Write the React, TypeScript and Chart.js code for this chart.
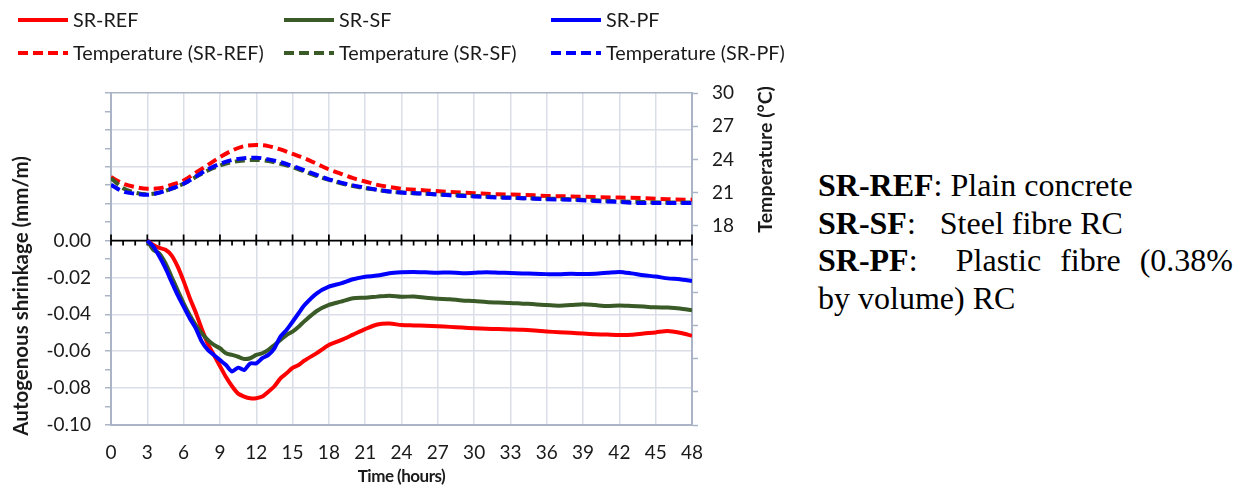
import React, { useEffect, useRef } from "react";
import { Chart, registerables } from "chart.js";

Chart.register(...registerables);

// ---------- data ----------
const shrinkHours = [
  3, 3.5, 4, 4.5, 5, 5.5, 6, 6.5, 7, 7.5, 8, 8.5, 9, 9.5, 10, 10.5, 11, 11.5, 12, 12.5, 13, 13.5, 14, 14.5, 15, 15.5,
  16, 17, 18, 19, 20, 21, 22, 23, 24, 25, 26, 27, 28, 29, 30, 31, 32, 33, 34, 35, 36, 37, 38, 39, 40, 41, 42, 43, 44,
  45, 46, 47, 48,
];
const shrinkREF = [
  0, -0.0024, -0.004, -0.005, -0.008, -0.014, -0.022, -0.031, -0.039, -0.048, -0.056, -0.062, -0.068, -0.074, -0.079,
  -0.083, -0.0846, -0.0855, -0.0855, -0.0846, -0.082, -0.079, -0.0747, -0.072, -0.069, -0.0675, -0.065, -0.061,
  -0.0566, -0.054, -0.051, -0.048, -0.0455, -0.045, -0.0458, -0.046, -0.0462, -0.0465, -0.0468, -0.0472, -0.0475,
  -0.0478, -0.048, -0.0482, -0.0484, -0.0488, -0.0493, -0.0497, -0.05, -0.0504, -0.0508, -0.051, -0.0512, -0.0511,
  -0.0504, -0.0498, -0.049, -0.05, -0.0516,
];
const shrinkSF = [
  0, -0.005, -0.007, -0.0123, -0.0196, -0.0268, -0.034, -0.0403, -0.0458, -0.0503, -0.0539, -0.0566, -0.0584,
  -0.0611, -0.062, -0.063, -0.0642, -0.0638, -0.062, -0.0611, -0.0593, -0.0566, -0.0539, -0.0512, -0.0494, -0.0467,
  -0.0436, -0.0382, -0.0349, -0.0331, -0.0313, -0.031, -0.0304, -0.0299, -0.0305, -0.0303, -0.031, -0.0315, -0.0318,
  -0.0325, -0.0328, -0.0333, -0.0336, -0.0338, -0.0342, -0.0345, -0.035, -0.0353, -0.035, -0.0345, -0.035, -0.0355,
  -0.0352, -0.0355, -0.0358, -0.0362, -0.0363, -0.0368, -0.0378,
];
const shrinkPF = [
  0, -0.0033, -0.0087, -0.015, -0.0223, -0.0295, -0.0358, -0.0421, -0.0476, -0.0548, -0.0593, -0.062, -0.0648,
  -0.0675, -0.071, -0.0689, -0.0702, -0.0666, -0.0666, -0.0638, -0.062, -0.0584, -0.0521, -0.0485, -0.044, -0.0394,
  -0.0349, -0.0286, -0.025, -0.0232, -0.021, -0.0196, -0.019, -0.0177, -0.0172, -0.017, -0.0172, -0.0174, -0.0173,
  -0.0177, -0.0175, -0.0172, -0.0174, -0.0176, -0.0178, -0.018, -0.0182, -0.0183, -0.018, -0.0182, -0.018, -0.0175,
  -0.017, -0.0178, -0.0188, -0.0195, -0.0205, -0.021, -0.0219,
];

const tempHours = [
  0, 1, 2, 3, 4, 5, 6, 7, 8, 9, 10, 11, 12, 13, 14, 15, 16, 17, 18, 19, 20, 21, 22, 23, 24, 26, 28, 30, 32, 34, 36, 38,
  40, 42, 44, 46, 48,
];
const tempREF = [
  22.4, 21.8, 21.5, 21.35, 21.4, 21.7, 22.1, 22.8, 23.5, 24.2, 24.8, 25.2, 25.3, 25.2, 24.9, 24.5, 24.1, 23.6, 23.1,
  22.7, 22.3, 22.0, 21.7, 21.5, 21.35, 21.2, 21.05, 20.95, 20.85, 20.8, 20.7, 20.65, 20.6, 20.55, 20.5, 20.4, 20.35,
];
const tempSF = [
  22.3, 21.4, 21.0, 20.85, 21.0, 21.35, 21.8, 22.4, 23.0, 23.45, 23.75, 23.9, 23.95, 23.85, 23.6, 23.3, 22.9, 22.5,
  22.15, 21.85, 21.6, 21.4, 21.25, 21.1, 21.0, 20.9, 20.8, 20.7, 20.6, 20.5, 20.45, 20.4, 20.3, 20.2, 20.15, 20.1, 20.1,
];
const tempPF = [
  21.7, 21.1, 20.9, 20.8, 21.0, 21.35, 21.8, 22.45, 23.1, 23.6, 23.95, 24.1, 24.15, 24.0, 23.75, 23.4, 23.0, 22.6, 22.2,
  21.9, 21.65, 21.45, 21.25, 21.1, 21.0, 20.9, 20.75, 20.65, 20.55, 20.5, 20.4, 20.35, 20.25, 20.15, 20.05, 20.05, 20.05,
];

const seriesLabels = ["SR-REF", "SR-SF", "SR-PF"];
const tempLabels = ["Temperature (SR-REF)", "Temperature (SR-SF)", "Temperature (SR-PF)"];
const seriesColors = ["#ff0000", "#3a5a27", "#0000ff"];

const xTitle = "Time (hours)";
const yTitle = "Autogenous shrinkage (mm/m)";
const y1Title = "Temperature (°C)";

// ---------- styles ----------
const GRID = "#d9dee7";
const AXIS = "#aab4c6";
const TEXT = "#1a1a1a";
const FONT = "Lato";
const DASH = [10, 5];

const toPts = (xs: number[], ys: number[]) => xs.map((x, i) => ({ x, y: ys[i] }));

const centerAxisPlugin = {
  id: "centerAxis",
  beforeDatasetsDraw(chart: any) {
    const { ctx, chartArea, scales } = chart;
    const y0 = scales.y.getPixelForValue(0);
    ctx.save();
    ctx.strokeStyle = "#000";
    ctx.lineWidth = 1.75;
    ctx.beginPath();
    ctx.moveTo(chartArea.left, y0);
    ctx.lineTo(chartArea.right, y0);
    for (let h = 0; h <= 48; h++) {
      const px = scales.x.getPixelForValue(h);
      if (h % 3 === 0) {
        ctx.moveTo(px, y0 - 6);
        ctx.lineTo(px, y0 + 5);
      } else {
        ctx.moveTo(px, y0);
        ctx.lineTo(px, y0 + 5);
      }
    }
    ctx.stroke();
    ctx.restore();
  },
};

const titlesPlugin = {
  id: "titles",
  afterDraw(chart: any) {
    const { ctx, chartArea, scales } = chart;
    ctx.save();
    ctx.fillStyle = TEXT;
    ctx.textAlign = "center";
    ctx.textBaseline = "middle";
    ctx.font = `bold 17px ${FONT}`;
    try {
      (ctx as any).letterSpacing = "-0.5px";
    } catch (e) {}
    ctx.fillText(xTitle, (chartArea.left + chartArea.right) / 2, 477);
    try {
      (ctx as any).letterSpacing = "0px";
    } catch (e) {}
    ctx.save();
    ctx.font = `bold 20.5px ${FONT}`;
    ctx.translate(21, scales.y.getPixelForValue(-0.03));
    ctx.rotate(-Math.PI / 2);
    ctx.fillText(yTitle, 0, 0);
    ctx.restore();
    ctx.save();
    ctx.font = `bold 19.5px ${FONT}`;
    ctx.translate(766, scales.y1.getPixelForValue(24));
    ctx.rotate(-Math.PI / 2);
    ctx.fillText(y1Title, 0, 0);
    ctx.restore();
    ctx.restore();
  },
};

const legendPlugin = {
  id: "gridLegend",
  afterDraw(chart: any) {
    const { ctx } = chart;
    const colX = [18, 284, 551];
    const rowY = [20, 53];
    ctx.save();
    ctx.font = `19.8px ${FONT}`;
    ctx.textBaseline = "middle";
    ctx.textAlign = "left";
    chart.data.datasets.forEach((ds: any, i: number) => {
      const x0 = colX[i % 3];
      const y = rowY[Math.floor(i / 3)];
      ctx.strokeStyle = ds.borderColor;
      ctx.lineWidth = 4;
      ctx.setLineDash(ds.borderDash || []);
      ctx.beginPath();
      ctx.moveTo(x0, y);
      ctx.lineTo(x0 + 50, y);
      ctx.stroke();
      ctx.setLineDash([]);
      ctx.fillStyle = TEXT;
      ctx.fillText(ds.label, x0 + 55, y + 1);
    });
    ctx.restore();
  },
};

export default function App() {
  const canvasRef = useRef<HTMLCanvasElement | null>(null);

  useEffect(() => {
    if (!canvasRef.current) return;
    const shrinkSets = [shrinkREF, shrinkSF, shrinkPF];
    const tempSets = [tempREF, tempSF, tempPF];
    const orders = [3, 2, 1];
    const datasets: any[] = [];
    shrinkSets.forEach((s, i) =>
      datasets.push({
        label: seriesLabels[i],
        data: toPts(shrinkHours, s),
        borderColor: seriesColors[i],
        backgroundColor: seriesColors[i],
        borderWidth: 4,
        pointRadius: 0,
        tension: 0.25,
        yAxisID: "y",
        order: orders[i],
      })
    );
    tempSets.forEach((s, i) =>
      datasets.push({
        label: tempLabels[i],
        data: toPts(tempHours, s),
        borderColor: seriesColors[i],
        backgroundColor: seriesColors[i],
        borderWidth: 4,
        borderDash: DASH,
        pointRadius: 0,
        cubicInterpolationMode: "monotone",
        yAxisID: "y1",
        order: orders[i],
      })
    );

    const tickFont = { family: FONT, size: 19 };
    const chart = new Chart(canvasRef.current, {
      type: "line",
      data: { datasets },
      options: {
        responsive: false,
        animation: false,
        devicePixelRatio: 1,
        layout: { padding: { top: 93, left: 0, right: 0, bottom: 0 } },
        plugins: { legend: { display: false }, tooltip: { enabled: false } },
        scales: {
          x: {
            type: "linear",
            position: "bottom",
            min: 0,
            max: 48,
            afterFit: (s: any) => {
              s.height = 63;
            },
            ticks: { stepSize: 3, autoSkip: false, maxRotation: 0, padding: 16, font: tickFont, color: TEXT },
            grid: { color: GRID, lineWidth: 1.5, drawTicks: false },
            border: { color: AXIS, width: 2 },
          },
          y: {
            position: "left",
            min: -0.1,
            max: 0.08,
            afterFit: (s: any) => {
              s.width = 111;
            },
            ticks: {
              stepSize: 0.01,
              autoSkip: false,
              padding: 14,
              font: tickFont,
              color: TEXT,
              callback: (v: any) => {
                const k = Math.round(Number(v) * 100);
                return k <= 0 && k % 2 === 0 ? (k / 100).toFixed(2) : "";
              },
            },
            grid: {
              color: (c: any) => {
                const k = Math.round(c.tick.value * 100);
                if (k === 8) return AXIS;
                return k % 2 === 0 ? GRID : "rgba(0,0,0,0)";
              },
              lineWidth: 1.5,
              tickLength: 6,
              tickColor: AXIS,
              tickWidth: 1.5,
            },
            border: { color: AXIS, width: 2 },
          },
          y1: {
            position: "right",
            min: 0,
            max: 30,
            afterFit: (s: any) => {
              s.width = 108;
            },
            ticks: {
              stepSize: 3,
              autoSkip: false,
              padding: 14,
              font: tickFont,
              color: TEXT,
              callback: (v: any) => (Number(v) >= 18 ? String(v) : ""),
            },
            grid: { drawOnChartArea: false, tickLength: 6, tickColor: AXIS, tickWidth: 1.5 },
            border: { color: AXIS, width: 2 },
          },
        },
      } as any,
      plugins: [centerAxisPlugin, titlesPlugin, legendPlugin],
    });
    return () => chart.destroy();
  }, []);

  return (
    <div style={{ position: "absolute", left: 0, top: 0, width: 1246, height: 488, background: "#fff", overflow: "hidden" }}>
      <canvas ref={canvasRef} width={800} height={488} style={{ position: "absolute", left: 0, top: 0, width: 800, height: 488 }} />
      <div
        style={{
          position: "absolute",
          left: 818,
          top: 167,
          width: 415,
          fontFamily: '"Liberation Serif", "Times New Roman", serif',
          fontSize: 32,
          lineHeight: "37.5px",
          color: "#000",
        }}
      >
        <div style={{ whiteSpace: "pre" }}>
          <b>SR-REF</b>: Plain concrete
        </div>
        <div style={{ whiteSpace: "pre" }}>
          <b>SR-SF</b>
          {":   Steel fibre RC"}
        </div>
        <div style={{ whiteSpace: "pre-wrap", textAlign: "justify", textAlignLast: "justify" } as any}>
          <b>SR-PF</b>
          {":  Plastic fibre (0.38%"}
        </div>
        <div style={{ whiteSpace: "pre" }}>by volume) RC</div>
      </div>
    </div>
  );
}
